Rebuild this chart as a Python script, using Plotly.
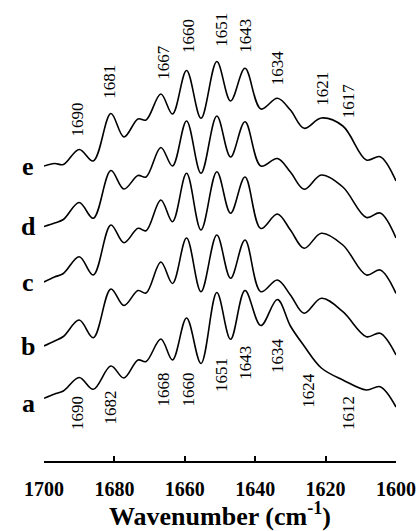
import plotly.graph_objects as go

# Wavenumber sample points (cm^-1) shared by all spectra
wavenumber = [1700, 1697, 1694.5, 1690, 1686, 1681, 1677.3, 1673.3, 1671, 1666.8,
              1663.5, 1659.5, 1655.4, 1650.9, 1647, 1642.9, 1638.4, 1633.7, 1630,
              1626.1, 1621.2, 1615.1, 1608.4, 1604.5, 1600]

# Stacked spectra (arbitrary units, offsets included)
spec_a = [62.7, 67, 70, 83.5, 71.7, 95, 83, 101, 99.5, 122, 101, 143, 97.5, 168.5,
          121.7, 170.5, 135.5, 161.5, 135, 115, 93, 81, 71, 74.3, 54]
spec_b = [115, 120, 124.5, 141, 123.3, 172, 155.5, 170.5, 168, 199, 177.5, 223, 169.3,
          226, 182.7, 221, 169.3, 181, 166, 147.7, 162.7, 149.3, 124.3, 127.7, 106]
spec_c = [179, 184, 187.5, 204.3, 186, 236, 218.3, 232.7, 230.3, 261, 239.3, 287.7,
          231, 289.3, 247.7, 284, 232.5, 247, 231, 212.7, 227.7, 216, 186, 191, 167.5]
spec_d = [234.5, 238, 241.5, 258.5, 242.7, 290.5, 272, 285.5, 284, 313.5, 295, 340,
          287.7, 345, 304, 339.3, 295, 302.5, 289, 271.7, 286, 274, 243.5, 248, 223]
spec_e = [295, 297.5, 296.5, 311.5, 300, 347.5, 324, 342, 341, 367, 347, 390.5, 342.7,
          399.5, 360, 392.7, 352, 362.7, 351, 332.7, 343, 335, 301, 304.3, 280]

series = [("a", spec_a), ("b", spec_b), ("c", spec_c), ("d", spec_d), ("e", spec_e)]

# Peak labels
top_labels = ["1690", "1681", "1667", "1660", "1651", "1643", "1634", "1621", "1617"]
bottom_labels = ["1690", "1682", "1668", "1660", "1651", "1643", "1634", "1624", "1612"]

# x-axis ticks
tick_values = [1700, 1680, 1660, 1640, 1620, 1600]

# label placement (layout only)
top_pos = [(1690.5, 342), (1681.25, 379.3), (1666.1, 398.5), (1659, 425.2), (1649.8, 431),
           (1642.6, 425.2), (1633.6, 393.5), (1620.9, 372.7), (1613.5, 360.2)]
bottom_pos = [(1690.4, 47.7), (1681.25, 53.5), (1666.1, 71.8), (1659, 71.8), (1649.7, 86),
              (1642.8, 98.5), (1633.5, 105.2), (1624.7, 70.2), (1613.5, 48.5)]
letter_y = [57.7, 115, 178.3, 234.3, 294.3]

fig = go.Figure()
for name, vals in series:
    fig.add_trace(go.Scatter(x=wavenumber, y=vals, mode="lines", name=name,
                             line=dict(color="black", width=1.6, shape="spline", smoothing=1.0),
                             showlegend=False, hoverinfo="skip"))

ann = []
for txt, (x, y) in zip(top_labels, top_pos):
    ann.append(dict(x=x, y=y, xref="x", yref="y", text=txt, showarrow=False, textangle=-90,
                    font=dict(family="Liberation Serif", size=17, color="black"),
                    xanchor="center", yanchor="middle"))
for txt, (x, y) in zip(bottom_labels, bottom_pos):
    ann.append(dict(x=x, y=y, xref="x", yref="y", text=txt, showarrow=False, textangle=-90,
                    font=dict(family="Liberation Serif", size=17, color="black"),
                    xanchor="center", yanchor="middle"))
for (name, _), y in zip(series, letter_y):
    ann.append(dict(x=-0.045, y=y, xref="paper", yref="y", text="<b>%s</b>" % name,
                    showarrow=False, font=dict(family="Liberation Serif", size=26, color="black"),
                    xanchor="center", yanchor="middle"))

fig.update_layout(
    width=417, height=531,
    margin=dict(l=44, r=21, t=0, b=70),
    plot_bgcolor="white", paper_bgcolor="white",
    annotations=ann,
    xaxis=dict(range=[1700, 1600], tickvals=tick_values,
               ticktext=["<b>%d</b>" % v for v in tick_values],
               showline=True, linecolor="black", linewidth=1.5, ticks="inside", ticklen=5,
               tickcolor="black", tickwidth=1.5, showgrid=False, zeroline=False,
               ticklabelstandoff=9,
               tickfont=dict(family="Liberation Serif", size=20, color="black"),
               title=dict(text="<b>Wavenumber (cm<sup>-1</sup>)</b>", standoff=14,
                          font=dict(family="Liberation Serif", size=26, color="black"))),
    yaxis=dict(range=[0, 461], visible=False, fixedrange=True),
)

fig.write_html("out.html", config={"displayModeBar": False},
               post_script="document.body.style.margin='0';document.body.style.overflow='hidden';")
